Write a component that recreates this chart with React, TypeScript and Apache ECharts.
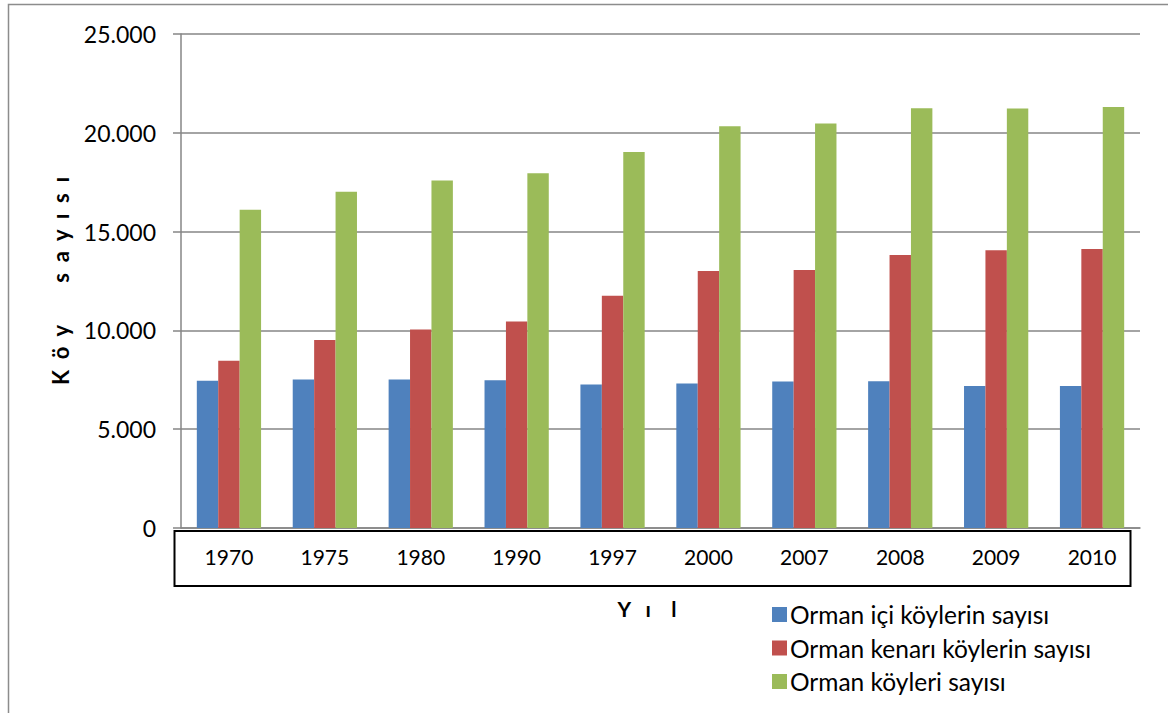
import React, { useEffect, useRef } from "react";
import * as echarts from "echarts";

const years = ["1970", "1975", "1980", "1990", "1997", "2000", "2007", "2008", "2009", "2010"];
const icKoy = [7450, 7520, 7520, 7480, 7265, 7315, 7415, 7430, 7180, 7180];
const kenarKoy = [8460, 9510, 10050, 10455, 11750, 13000, 13055, 13815, 14050, 14115];
const ormanKoy = [16110, 17020, 17580, 17950, 19030, 20330, 20465, 21245, 21230, 21310];
const seriesNames = ["Orman içi köylerin sayısı", "Orman kenarı köylerin sayısı", "Orman köyleri sayısı"];
const colors = ["#4F81BD", "#C0504D", "#9BBB59"];
const yTicks = { min: 0, max: 25000, interval: 5000 };

const FONT = "Lato, 'Open Sans', sans-serif";

export default function App() {
  const ref = useRef<HTMLDivElement>(null);
  useEffect(() => {
    if (!ref.current) return;
    const chart = echarts.init(ref.current, null, { renderer: "svg" });
    const mk = (name: string, data: number[], color: string) => ({
      name,
      type: "bar",
      data,
      barGap: "0%",
      barCategoryGap: "33%",
      itemStyle: { color },
    });
    chart.setOption({
      animation: false,
      backgroundColor: "#fff",
      textStyle: { fontFamily: FONT },
      grid: { left: 181, right: 28, top: 34, bottom: 185, containLabel: false },
      graphic: [
        {
          type: "rect",
          shape: { x: 8.5, y: 4.5, width: 1300, height: 900 },
          style: { fill: "none", stroke: "#8c8c8c", lineWidth: 1.5 },
          silent: true,
        },
        {
          type: "rect",
          shape: { x: 174.5, y: 531, width: 956, height: 55 },
          style: { fill: "none", stroke: "#000", lineWidth: 2 },
          silent: true,
        },
        {
          type: "text",
          x: 647,
          y: 608,
          style: {
            text: "Y   ı    l",
            font: `bold 21px ${FONT}`,
            fill: "#000",
            align: "center",
            verticalAlign: "middle",
          },
          silent: true,
        },
      ],
      legend: {
        orient: "vertical",
        left: 767,
        top: 597,
        itemWidth: 15,
        itemHeight: 15,
        itemGap: 8.5,
        itemStyle: { borderWidth: 0 },
        icon: "rect",
        textStyle: { fontFamily: FONT, fontSize: 24.5, color: "#000", lineHeight: 24, padding: [0, 0, 0, -2] },
        data: seriesNames,
      },
      xAxis: {
        type: "category",
        data: years,
        axisLine: { show: true, lineStyle: { color: "#868686", width: 1.5 } },
        axisTick: { show: false },
        axisLabel: { color: "#000", fontSize: 21, fontFamily: FONT, margin: 18 },
      },
      yAxis: {
        type: "value",
        min: yTicks.min,
        max: yTicks.max,
        interval: yTicks.interval,
        name: "K  ö  y        s  a  y  ı  s  ı",
        nameLocation: "middle",
        nameRotate: 90,
        nameGap: 110,
        nameTextStyle: { fontFamily: FONT, fontWeight: "bold", fontSize: 22, color: "#000" },
        axisLine: { show: true, lineStyle: { color: "#868686", width: 1.5 } },
        axisTick: { show: true, length: 8, lineStyle: { color: "#868686", width: 1.5 } },
        splitLine: { show: true, lineStyle: { color: "#868686", width: 1.5 } },
        axisLabel: {
          color: "#000",
          fontSize: 23,
          fontFamily: FONT,
          margin: 25,
          formatter: (v: number) => (v === 0 ? "0" : (v / 1000).toFixed(3)),
        },
      },
      series: [
        mk(seriesNames[0], icKoy, colors[0]),
        mk(seriesNames[1], kenarKoy, colors[1]),
        mk(seriesNames[2], ormanKoy, colors[2]),
      ],
    });
    return () => chart.dispose();
  }, []);
  return (
    <div
      ref={ref}
      style={{ position: "fixed", left: 0, top: 0, width: 1168, height: 713, background: "#fff" }}
    />
  );
}
